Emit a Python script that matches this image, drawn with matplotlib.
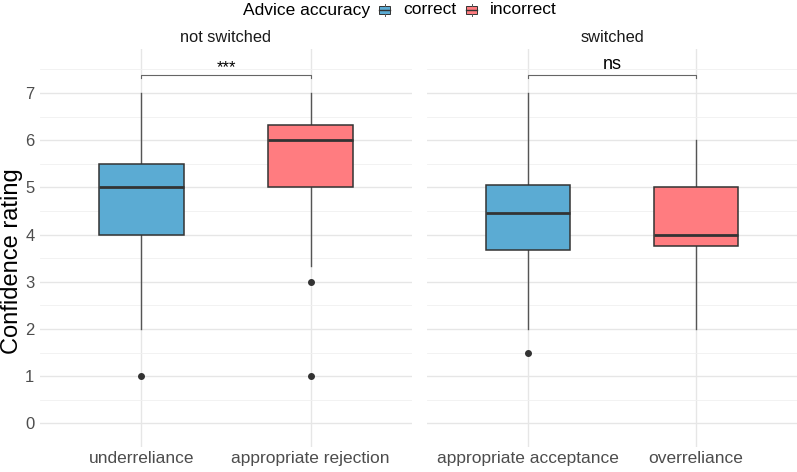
import matplotlib
matplotlib.use("Agg")
import matplotlib.pyplot as plt
from matplotlib.patches import Rectangle
from matplotlib.lines import Line2D

plt.rcParams['font.family'] = ['Liberation Sans', 'DejaVu Sans']

# data
facets = ['not switched', 'switched']
categories = [['underreliance', 'appropriate rejection'],
              ['appropriate acceptance', 'overreliance']]
accuracy = [['correct', 'incorrect'], ['correct', 'incorrect']]
q1 = [[4.0, 5.0], [3.67, 3.75]]
med = [[5.0, 6.0], [4.45, 4.0]]
q3 = [[5.5, 6.33], [5.05, 5.0]]
whislo = [[2.0, 3.33], [2.0, 2.0]]
whishi = [[7.0, 7.0], [7.0, 6.0]]
fliers = [[[1.0], [3.0, 1.0]], [[1.5], []]]
signif = ['***', 'ns']

colors = {'correct': '#5BABD3', 'incorrect': '#FF7C80'}

W, H = 797, 472
fig = plt.figure(figsize=(W / 100, H / 100), dpi=100)

def px_axes(x0, x1, y0, y1):
    return fig.add_axes([x0 / W, 1 - y1 / H, (x1 - x0) / W, (y1 - y0) / H])

panels = [(40, 412), (427, 797)]
ytop, ybot = 49, 447

for i, (x0, x1) in enumerate(panels):
    ax = px_axes(x0, x1, ytop, ybot)
    stats = []
    for j in range(2):
        stats.append(dict(med=med[i][j], q1=q1[i][j], q3=q3[i][j],
                          whislo=whislo[i][j], whishi=whishi[i][j],
                          fliers=fliers[i][j]))
    bp = ax.bxp(stats, positions=[1, 2], widths=0.5, patch_artist=True,
                showcaps=False,
                boxprops=dict(edgecolor='#333333', linewidth=1.1),
                medianprops=dict(color='#333333', linewidth=2.0),
                whiskerprops=dict(color='#555555', linewidth=1.0),
                flierprops=dict(marker='o', markerfacecolor='#333333',
                                markeredgecolor='#333333', markersize=4))
    for patch, acc in zip(bp['boxes'], accuracy[i]):
        patch.set_facecolor(colors[acc])
        patch.set_zorder(3)
    for m in bp['medians']:
        m.set_zorder(4)

    # significance bracket
    yb = 7.38
    ax.plot([1, 1, 2, 2], [yb - 0.07, yb, yb, yb - 0.07], color='#666666',
            linewidth=0.8, zorder=5)
    if signif[i] == 'ns':
        ax.text(1.5, yb + 0.05, signif[i], ha='center', va='bottom', fontsize=13)
    else:
        ax.text(1.5, 7.53, signif[i], ha='center', va='center', fontsize=12)

    ax.set_xlim(0.4, 2.6)
    ax.set_ylim(-0.339, 7.93)
    ax.set_xticks([1, 2])
    ax.set_xticklabels(categories[i], fontsize=12.5, color='#4D4D4D')
    ax.set_yticks(range(8))
    ax.set_yticks([k + 0.5 for k in range(-1, 8)], minor=True)
    if i == 0:
        ax.set_yticklabels([str(k) for k in range(8)], fontsize=12, color='#4D4D4D')
    else:
        ax.set_yticklabels([])
    ax.tick_params(length=0, pad=4)
    ax.tick_params(axis='x', pad=3)
    ax.tick_params(which='minor', length=0)
    ax.grid(True, which='major', color='#E6E6E6', linewidth=1.0)
    ax.grid(True, which='minor', axis='y', color='#F0F0F0', linewidth=0.6)
    ax.set_axisbelow(True)
    for s in ax.spines.values():
        s.set_visible(False)
    fig.text((x0 + x1) / 2 / W, 1 - 37 / H, facets[i], ha='center', va='center',
             fontsize=11.8, color='#1A1A1A')

fig.text(12 / W, 1 - 261 / H, 'Confidence rating', rotation=90, ha='center',
         va='center', fontsize=17)

# legend at top
ly = 1 - 10 / H
fig.text(370 / W, ly, 'Advice accuracy', ha='right', va='center', fontsize=12.5)
for kx, lab in [(379, 'correct'), (466, 'incorrect')]:
    fig.patches.append(Rectangle((kx / W, 1 - 14 / H), 11 / W, 8 / H,
                                 transform=fig.transFigure, facecolor=colors[lab],
                                 edgecolor='#333333', linewidth=0.7))
    fig.lines.append(Line2D([kx / W, (kx + 11) / W], [ly, ly],
                            transform=fig.transFigure, color='#333333', linewidth=1.0))
    fig.lines.append(Line2D([(kx + 5.5) / W] * 2, [1 - 4 / H, 1 - 6 / H],
                            transform=fig.transFigure, color='#555555', linewidth=0.7))
    fig.lines.append(Line2D([(kx + 5.5) / W] * 2, [1 - 14 / H, 1 - 16 / H],
                            transform=fig.transFigure, color='#555555', linewidth=0.7))
    fig.text((kx + 24) / W, ly, lab, ha='left', va='center', fontsize=12.5)

fig.savefig('out.png', dpi=100, facecolor='white')
